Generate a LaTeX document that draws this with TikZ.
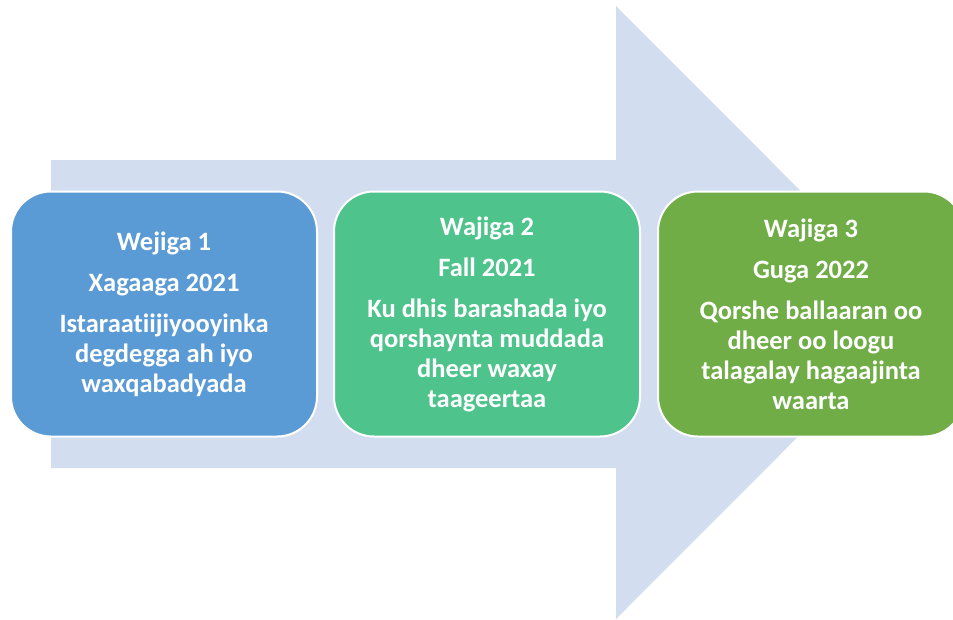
\documentclass[tikz,border=0pt]{standalone}
\usepackage{fontspec}
\setmainfont[Ligatures={NoCommon,NoRare}]{Carlito}
\definecolor{arrowbg}{HTML}{D2DDEF}
\definecolor{phaseblue}{HTML}{5B9BD5}
\definecolor{phaseteal}{HTML}{4EC48C}
\definecolor{phasegreen}{HTML}{70AD47}
\begin{document}
\begin{tikzpicture}[x=1pt,y=-1pt]
\tikzstyle{phase}=[draw=white,line width=2pt,rounded corners=40pt,minimum width=306pt,minimum height=245pt,align=center,text=white,font=\fontsize{26.5}{30}\selectfont\bfseries]
\useasboundingbox (0,0) rectangle (953,619);
\clip (0,0) rectangle (953,619);

% big arrow behind the phases
\fill[arrowbg] (51,160) -- (616,160) -- (616,6) -- (922,312.5) -- (616,619) -- (616,468) -- (51,468) -- cycle;

\draw (164,314) node[phase,fill=phaseblue] (p1) {Wejiga 1\\[11pt]Xagaaga 2021\\[11pt]Istaraatiijiyooyinka\\degdegga ah iyo\\waxqabadyada};
\draw (487,314) node[phase,fill=phaseteal] (p2) {Wajiga 2\\[11pt]Fall 2021\\[11pt]Ku dhis barashada iyo\\qorshaynta muddada\\dheer waxay\\taageertaa};
\draw (811,314) node[phase,fill=phasegreen] (p3) {Wajiga 3\\[11pt]Guga 2022\\[11pt]Qorshe ballaaran oo\\dheer oo loogu\\talagalay hagaajinta\\waarta};
\end{tikzpicture}
\end{document}
